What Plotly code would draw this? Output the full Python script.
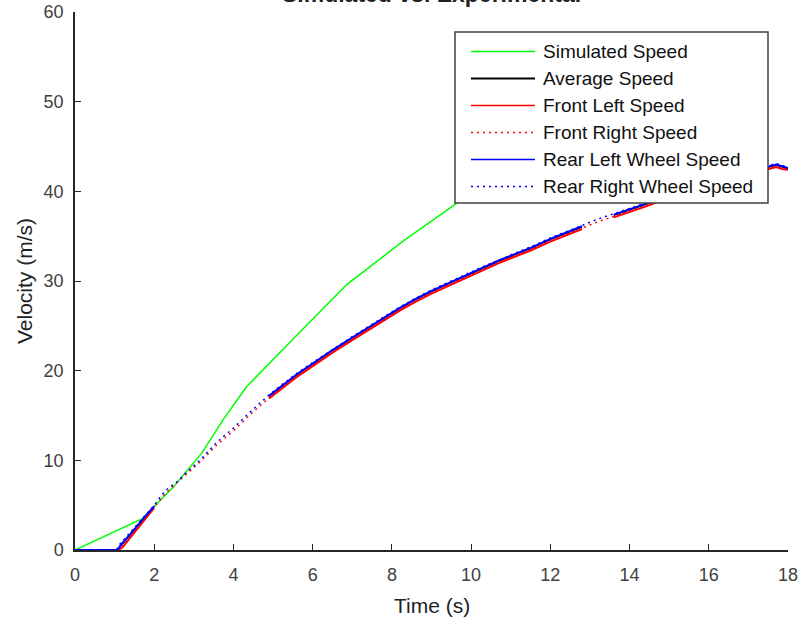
import plotly.graph_objects as go

# ---- data ---------------------------------------------------------------
t_sim = [0.0, 1.7, 2.5, 3.2, 3.75, 4.33, 5.5, 6.86, 8.3, 9.65, 11.0, 12.5, 14.0, 15.5, 17.0]
v_sim = [0.0, 3.5, 7.1, 10.8, 14.6, 18.2, 23.5, 29.6, 34.5, 38.7, 42.5, 46.0, 49.0, 51.5, 53.5]

t_exp = [0.00, 1.05, 1.10, 1.20, 1.40, 1.60, 1.80, 2.00, 2.15, 2.30, 2.45, 2.60, 2.75,
         3.15, 3.60, 4.00, 4.40, 4.90, 5.30, 5.60, 6.00, 6.50, 7.00, 7.40, 7.80, 8.20,
         8.60, 9.00, 9.50, 9.90, 10.30, 10.70, 11.10, 11.50, 12.00, 12.40, 12.80, 13.20,
         13.60, 14.00, 14.40, 15.00, 15.50, 16.00, 16.50, 17.00, 17.50, 17.70, 17.85, 18.00]

front_left = [0, 0, 0, 0.3, 1.4, 2.6, 3.7, 4.7, None, None, None, None, None,
              None, None, None, None, 16.9, 18.3, 19.3, 20.5, 22.0, 23.4, 24.5, 25.6, 26.7,
              27.7, 28.6, 29.6, 30.4, 31.2, 32.0, 32.7, 33.4, 34.4, 35.1, 35.8, None,
              37.1, 37.7, 38.3, 39.3, 40.0, 40.7, 41.3, 41.9, 42.5, 42.7, 42.5, 42.4]
front_right = [0, 0, 0, 0.4, 1.5, 2.7, 3.8, 4.8, 5.6, 6.4, 7.0, 7.5, 8.2,
               9.8, 11.8, 13.3, 15.0, 17.0, 18.4, 19.4, 20.6, 22.1, 23.5, 24.6, 25.7, 26.8,
               27.8, 28.7, 29.7, 30.5, 31.3, 32.1, 32.8, 33.5, 34.5, 35.2, 35.9, 36.6,
               37.2, 37.8, 38.4, 39.4, 40.1, 40.8, 41.4, 42.0, 42.6, 42.8, 42.6, 42.5]
rear_left = [0, 0, 0.2, 0.8, 1.8, 2.9, 3.9, 4.9, None, None, None, None, None,
             None, None, None, None, 17.2, 18.6, 19.6, 20.8, 22.3, 23.7, 24.8, 25.9, 27.0,
             28.0, 28.9, 29.9, 30.7, 31.5, 32.3, 33.0, 33.7, 34.7, 35.4, 36.1, None,
             37.4, 38.0, 38.6, 39.6, 40.3, 41.0, 41.6, 42.2, 42.8, 43.0, 42.8, 42.6]
rear_right = [0, 0, 0.5, 1.0, 1.9, 3.0, 4.0, 5.0, 5.9, 6.7, 7.2, 7.7, 8.4,
              10.0, 12.1, 13.6, 15.3, 17.3, 18.7, 19.7, 20.9, 22.4, 23.8, 24.9, 26.0, 27.1,
              28.1, 29.0, 30.0, 30.8, 31.6, 32.3, 33.1, 33.8, 34.8, 35.5, 36.2, 36.9,
              37.5, 38.1, 38.7, 39.7, 40.4, 41.1, 41.7, 42.3, 42.9, 43.1, 42.9, 42.7]

# mean of the four wheel speeds (undefined where a wheel sample is missing)
average = []
for vals in zip(front_left, front_right, rear_left, rear_right):
    average.append(None if None in vals else sum(vals) / 4.0)

series_names = ["Simulated Speed", "Average Speed", "Front Left Speed",
                "Front Right Speed", "Rear Left Wheel Speed", "Rear Right Wheel Speed"]
series_colors = ["#00ff00", "#000000", "#ff0000", "#ff0000", "#0000ff", "#0000ff"]
series_dash = ["solid", "solid", "solid", "2px,4px", "solid", "2px,4px"]
legend_width = [1.5, 2.0, 1.5, 1.5, 1.5, 1.5]
trace_width = [1.5, 1.0, 2.0, 1.5, 2.0, 1.5]

x_ticks = list(range(0, 19, 2))
y_ticks = list(range(0, 61, 10))

FONT = "Arial, Liberation Sans, sans-serif"
W, H = 801, 625
M = dict(l=75, r=13, t=12, b=75, autoexpand=False)
PW = W - M["l"] - M["r"]
PH = H - M["t"] - M["b"]


def px(x):
    return (x - M["l"]) / PW


def py(y):
    return (H - M["b"] - y) / PH


fig = go.Figure()
xs = [t_sim, t_exp, t_exp, t_exp, t_exp, t_exp]
ys = [v_sim, average, front_left, front_right, rear_left, rear_right]
for i, name in enumerate(series_names):
    fig.add_trace(go.Scatter(
        x=xs[i], y=ys[i], mode="lines", name=name, showlegend=False,
        line=dict(color=series_colors[i], width=trace_width[i], dash=series_dash[i]),
        connectgaps=False,
    ))

# ---- boxed legend ---------------------------------------------------------
shapes = [dict(type="rect", xref="paper", yref="paper",
               x0=px(455), x1=px(768), y0=py(203), y1=py(32),
               fillcolor="white", line=dict(color="#404040", width=1.5), layer="above")]
annotations = []
row0, row_gap = 51.5, 27.0
for i, name in enumerate(series_names):
    yy = py(row0 + i * row_gap)
    shapes.append(dict(type="line", xref="paper", yref="paper",
                       x0=px(471), x1=px(535), y0=yy, y1=yy, layer="above",
                       line=dict(color=series_colors[i], width=legend_width[i],
                                 dash=series_dash[i])))
    annotations.append(dict(text=name, xref="paper", yref="paper", x=px(541), y=yy,
                            xanchor="left", yanchor="middle", showarrow=False,
                            font=dict(family=FONT, size=19, color="#111111")))

# ---- titles ----------------------------------------------------------------
annotations.append(dict(text="<b>Simulated vs. Experimental</b>", xref="paper", yref="paper",
                        x=0.5, y=py(9), xanchor="center", yanchor="bottom", showarrow=False,
                        font=dict(family=FONT, size=23, color="#222222")))
annotations.append(dict(text="Time (s)", xref="paper", yref="paper",
                        x=0.5, y=py(605), xanchor="center", yanchor="middle", showarrow=False,
                        font=dict(family=FONT, size=21, color="#222222")))
annotations.append(dict(text="Velocity (m/s)", xref="paper", yref="paper",
                        x=px(24), y=0.5, xanchor="center", yanchor="middle", showarrow=False,
                        textangle=-90, font=dict(family=FONT, size=21, color="#222222")))

axis_common = dict(showgrid=False, zeroline=False, showline=True, linecolor="#262626",
                   linewidth=1.5, ticks="inside", ticklen=6, tickcolor="#262626",
                   tickwidth=1.2, tickfont=dict(family=FONT, size=18, color="#404040"),
                   layer="below traces", fixedrange=True, automargin=False)

fig.update_layout(
    width=W, height=H, margin=M,
    paper_bgcolor="white", plot_bgcolor="white",
    xaxis=dict(range=[0, 18], tickvals=x_ticks, ticktext=[str(v) for v in x_ticks],
               ticklabelstandoff=8, **axis_common),
    yaxis=dict(range=[0, 60], tickvals=y_ticks, ticktext=[str(v) for v in y_ticks],
               ticklabelstandoff=6, **axis_common),
    shapes=shapes, annotations=annotations, showlegend=False,
)

fig.write_html("out.html")
